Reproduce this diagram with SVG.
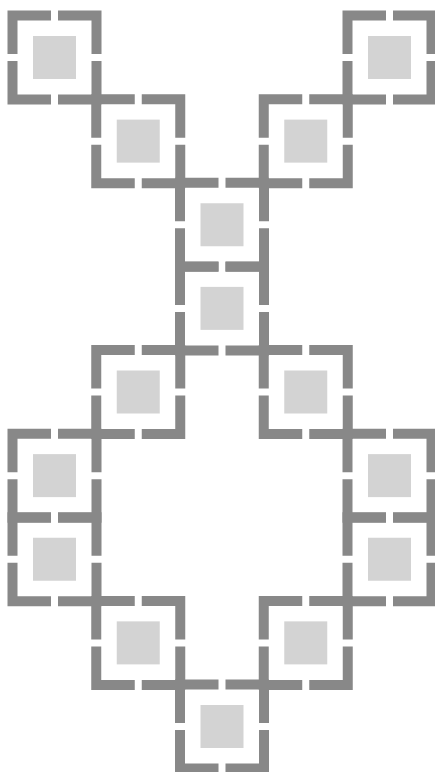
<svg xmlns="http://www.w3.org/2000/svg" xmlns:xlink="http://www.w3.org/1999/xlink" width="435" height="772" viewBox="0 0 435 772">
  <style>
    .border { fill: none; stroke: #888888; stroke-width: 10; stroke-linejoin: miter; stroke-linecap: butt; }
    .inner { fill: #d3d3d3; stroke: none; }
  </style>
  <defs>
    <path id="cellBorder" class="border" d="M 3.5 -42 H 42 V -3.5 M 42 3.5 V 42 H 3.5 M -3.5 42 H -42 V 3.5 M -42 -3.5 V -42 H -3.5"/>
    <rect id="cellInner" class="inner" x="-21.5" y="-21.5" width="43" height="43"/>
    <g id="cell">
      <use href="#cellBorder"/>
      <use href="#cellInner"/>
    </g>
  </defs>
  <rect x="0" y="0" width="435" height="772" fill="#ffffff"/>
  <g id="connectors"></g>
  <g id="nodes">
    <g id="cell-r0-c0" transform="translate(54.5 57.5)"><use href="#cell"/></g>
    <g id="cell-r0-c4" transform="translate(389.5 57.5)"><use href="#cell"/></g>
    <g id="cell-r1-c1" transform="translate(138.25 141.125)"><use href="#cell"/></g>
    <g id="cell-r1-c3" transform="translate(305.75 141.125)"><use href="#cell"/></g>
    <g id="cell-r2-c2" transform="translate(222 224.75)"><use href="#cell"/></g>
    <g id="cell-r3-c2" transform="translate(222 308.375)"><use href="#cell"/></g>
    <g id="cell-r4-c1" transform="translate(138.25 392)"><use href="#cell"/></g>
    <g id="cell-r4-c3" transform="translate(305.75 392)"><use href="#cell"/></g>
    <g id="cell-r5-c0" transform="translate(54.5 475.625)"><use href="#cell"/></g>
    <g id="cell-r5-c4" transform="translate(389.5 475.625)"><use href="#cell"/></g>
    <g id="cell-r6-c0" transform="translate(54.5 559.25)"><use href="#cell"/></g>
    <g id="cell-r6-c4" transform="translate(389.5 559.25)"><use href="#cell"/></g>
    <g id="cell-r7-c1" transform="translate(138.25 642.875)"><use href="#cell"/></g>
    <g id="cell-r7-c3" transform="translate(305.75 642.875)"><use href="#cell"/></g>
    <g id="cell-r8-c2" transform="translate(222 726.5)"><use href="#cell"/></g>
  </g>
</svg>
